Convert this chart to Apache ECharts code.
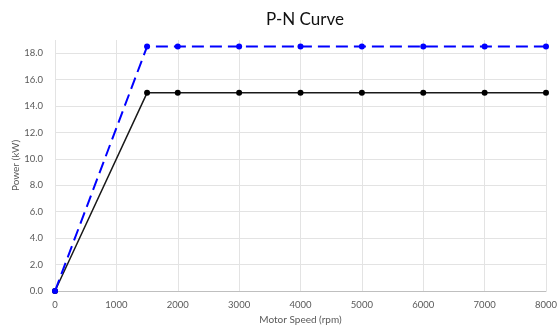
<!DOCTYPE html>
<html><head><meta charset="utf-8">
<script src="https://cdn.jsdelivr.net/npm/echarts@6/dist/echarts.min.js"></script>
<style>html,body{margin:0;padding:0;background:#fff}#c{width:559px;height:331px}</style>
</head><body><div id="c"></div>
<script>
const speeds = [0, 1500, 2000, 3000, 4000, 5000, 6000, 7000, 8000];
const peakPower = [0, 18.5, 18.5, 18.5, 18.5, 18.5, 18.5, 18.5, 18.5];
const ratedPower = [0, 15, 15, 15, 15, 15, 15, 15, 15];
const font = 'Lato, "Open Sans", sans-serif';
const chart = echarts.init(document.getElementById('c'));
chart.setOption({
  animation: false,
  title: { text: 'P-N Curve', left: 300, top: 6, textAlign: 'center',
    textStyle: { fontFamily: font, fontSize: 17, fontWeight: 'normal', color: '#111' } },
  grid: { left: 55, right: 13, top: 40, bottom: 40, outerBoundsMode: 'none', containLabel: false },
  xAxis: {
    type: 'value', min: 0, max: 8000, interval: 1000,
    name: 'Motor Speed (rpm)', nameLocation: 'middle', nameGap: 24, nameMoveOverlap: false,
    nameTextStyle: { fontFamily: font, fontSize: 10, color: '#595959' },
    axisLine: { lineStyle: { color: '#bfbfbf', width: 1 } },
    axisTick: { show: false },
    axisLabel: { fontFamily: font, fontSize: 9.5, color: '#595959', margin: 9,
      formatter: v => String(v) },
    splitLine: { show: true, lineStyle: { color: '#e3e3e3', width: 1 } }
  },
  yAxis: {
    type: 'value', min: 0, max: 19, interval: 2,
    name: 'Power (kW)', nameLocation: 'middle', nameGap: 34, nameMoveOverlap: false,
    nameTextStyle: { fontFamily: font, fontSize: 10, color: '#595959' },
    axisLine: { show: false },
    axisTick: { show: false },
    axisLabel: { fontFamily: font, fontSize: 9.5, color: '#595959', margin: 12,
      formatter: v => (v % 2 === 0 ? v.toFixed(1) : '') },
    splitLine: { show: true, showMaxLine: false, lineStyle: { color: '#e3e3e3', width: 1 } }
  },
  series: [
    { type: 'line', data: speeds.map((s, i) => [s, ratedPower[i]]),
      symbol: 'circle', symbolSize: 6, itemStyle: { color: '#000' },
      lineStyle: { color: '#1a1a1a', width: 1.5 }, z: 2 },
    { type: 'line', data: speeds.map((s, i) => [s, peakPower[i]]),
      symbol: 'circle', symbolSize: 6, itemStyle: { color: '#0000ff' },
      lineStyle: { color: '#0000ff', width: 2, type: [12, 6] }, z: 3 }
  ]
});
</script></body></html>
